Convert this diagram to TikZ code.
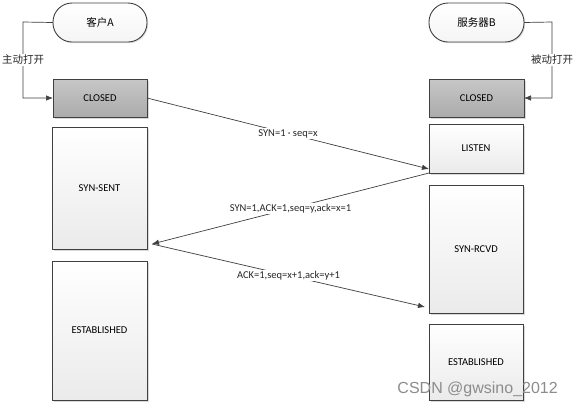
\documentclass[tikz,border=0pt]{standalone}
\usepackage{fontspec}
\setmainfont{Carlito}
\newfontfamily\cjk{Noto Sans CJK SC}
\newfontfamily\wmfont{Liberation Sans}
\usetikzlibrary{arrows.meta,shadows,calc}
\definecolor{edge}{HTML}{404040}
\tikzset{
  state/.style={draw=edge, line width=0.9pt, anchor=north west, inner sep=0pt, outer sep=0pt,
    top color=white, bottom color=black!8, font=\fontsize{10.5}{12}\selectfont,
    drop shadow={shadow xshift=1.5pt, shadow yshift=-1.5pt, fill=black!15, opacity=1}},
  closedstate/.style={state, top color=black!22, bottom color=black!33},
  term/.style={draw=edge, line width=0.9pt, anchor=north west, inner sep=0pt, outer sep=0pt,
    rounded corners=19pt, top color=white, bottom color=black!4,
    font=\cjk\fontsize{10.5}{12}\selectfont,
    drop shadow={shadow xshift=1.2pt, shadow yshift=-1.2pt, fill=black!12, opacity=1}},
  msg/.style={draw=edge, line width=0.7pt, -{Latex[length=7pt,width=5.5pt]}},
  msglabel/.style={fill=white, inner sep=1pt, font=\fontsize{10.5}{12}\selectfont, text=black!85},
  openlabel/.style={fill=white, inner sep=1.5pt, font=\cjk\fontsize{10.5}{12}\selectfont, text=black!85},
}
\begin{document}
\begin{tikzpicture}[x=1pt,y=-1pt]
\useasboundingbox[fill=white] (0,0) rectangle (573,408);
% terminals
\node[term, minimum width=94pt, minimum height=39pt] (cA) at (53,3) {客户A};
\node[term, minimum width=95pt, minimum height=39pt] (sB) at (429,3) {服务器B};
% left column
\node[closedstate, minimum width=94pt, minimum height=38pt] (cclosed) at (53,79) {CLOSED};
\node[state, minimum width=95pt, minimum height=122pt] (synsent) at (52,127) {SYN-SENT};
\node[state, minimum width=95pt, minimum height=139pt] (cest) at (52,261) {ESTABLISHED};
% right column
\node[closedstate, minimum width=95pt, minimum height=38pt] (sclosed) at (429,79) {CLOSED};
\node[state, minimum width=94pt, minimum height=49pt] (listen) at (429,124) {LISTEN};
\node[state, minimum width=94pt, minimum height=128pt] (synrcvd) at (429,185) {SYN-RCVD};
\node[state, minimum width=94pt, minimum height=76pt] (sest) at (429,324) {ESTABLISHED};
% open brackets
\coordinate (la) at (23,22);
\coordinate (lb) at (23,98);
\coordinate (ra) at (552,22);
\coordinate (rb) at (552,98);
\draw[msg] (cA.west) -- (la) -- node[openlabel]{主动打开} (lb) -- (cclosed.west);
\draw[msg] (sB.east) -- (ra) -- node[openlabel]{被动打开} (rb) -- (sclosed.east);
% handshake messages
\coordinate (p1) at ($(listen.south west)+(0,-4)$);
\coordinate (p2) at ($(synsent.south east)+(5,-5)$);
\coordinate (p3) at ($(synrcvd.south west)+(-4,-6)$);
\draw[msg] (cclosed.east) -- node[msglabel]{SYN=1 · seq=x} (p1);
\draw[msg] (listen.south west) -- node[msglabel]{SYN=1,ACK=1,seq=y,ack=x=1} (p2);
\draw[msg] (p2) -- node[msglabel]{ACK=1,seq=x+1,ack=y+1} (p3);
% watermark
\node[anchor=east, text=black!45, font=\wmfont\fontsize{16}{18}\selectfont, inner sep=0pt] (wm) at (558,389) {CSDN @gwsino\_2012};
\end{tikzpicture}
\end{document}
